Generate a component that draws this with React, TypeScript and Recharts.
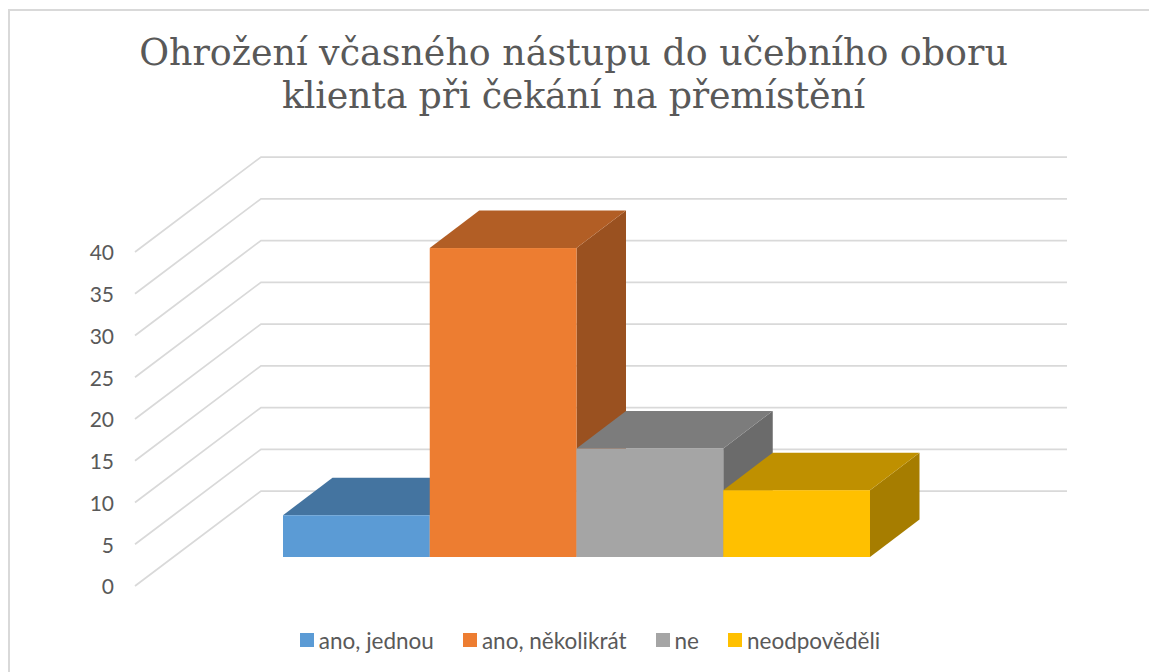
import React from "react";
import { BarChart, Bar, XAxis, YAxis, CartesianGrid, Legend } from "recharts";

const titleLines = ["Ohrožení včasného nástupu do učebního oboru", "klienta při čekání na přemístění"];
const categories = ["Ohrožení"];
const seriesNames = ["ano, jednou", "ano, několikrát", "ne", "neodpověděli"];
const seriesValues = [5, 37, 13, 8];
const frontColors = ["#5B9BD5", "#ED7D31", "#A5A5A5", "#FFC000"];
const topColors = ["#4474A0", "#B25E25", "#7C7C7C", "#BF9000"];
const sideColors = ["#3A6389", "#9A5120", "#6B6B6B", "#A67D00"];
const yTicks = [0, 5, 10, 15, 20, 25, 30, 35, 40];

const WALL_DX = 126;
const WALL_DY = 95;
const BAR_SHIFT_X = 38;
const BAR_SHIFT_Y = 29;
const DEPTH_X = 49.5;
const DEPTH_Y = 37.5;

const data = categories.map((c) => {
  const row: Record<string, string | number> = { category: c };
  seriesNames.forEach((n, i) => (row[n] = seriesValues[i]));
  return row;
});

const gridLine = (p: any) => {
  const { x1, x2, y1 } = p;
  const d = `M${x1},${y1}L${x1 + WALL_DX},${y1 - WALL_DY}L${x2 + WALL_DX},${y1 - WALL_DY}`;
  return <path key={p.key ?? y1} d={d} fill="none" stroke="#D9D9D9" strokeWidth={1.75} />;
};

const makeShape = (i: number) => (p: any) => {
  const x = p.x + BAR_SHIFT_X;
  const y = p.y - BAR_SHIFT_Y;
  const w = p.width;
  const h = p.height;
  return (
    <g>
      <path d={`M${x + w},${y}L${x + w + DEPTH_X},${y - DEPTH_Y}L${x + w + DEPTH_X},${y + h - DEPTH_Y}L${x + w},${y + h}Z`} fill={sideColors[i]} />
      <path d={`M${x},${y}L${x + DEPTH_X},${y - DEPTH_Y}L${x + w + DEPTH_X},${y - DEPTH_Y}L${x + w},${y}Z`} fill={topColors[i]} />
      <rect x={x} y={y} width={w} height={h} fill={frontColors[i]} />
    </g>
  );
};

const legendContent = () => (
  <div style={{ display: "flex", justifyContent: "center", height: 30, paddingLeft: 31, boxSizing: "border-box", alignItems: "center", fontFamily: "Lato, sans-serif", fontSize: 22.5, color: "#595959" }}>
    {seriesNames.map((n, i) => (
      <span key={n} style={{ display: "inline-flex", alignItems: "center", marginRight: i < 3 ? 29 : 0 }}>
        <span style={{ width: 14, height: 14, background: frontColors[i], marginRight: 5 }} />
        {n}
      </span>
    ))}
  </div>
);

export default function App() {
  return (
    <div style={{ position: "absolute", left: 0, top: 0, width: 1149, height: 672, overflow: "hidden", background: "#fff" }}>
      <div style={{ position: "absolute", left: 8, top: 9, width: 1200, height: 700, borderLeft: "2px solid #D9D9D9", borderTop: "2px solid #D9D9D9" }} />
      <div style={{ position: "absolute", left: 0, top: 31, width: 1147, textAlign: "center", fontFamily: "'DejaVu Serif', serif", fontSize: 36.4, lineHeight: "43px", color: "#595959", whiteSpace: "nowrap" }}>
        {titleLines.map((t, i) => (
          <div key={t} style={{ letterSpacing: i === 1 ? -0.2 : 0 }}>{t}</div>
        ))}
      </div>
      <div style={{ position: "absolute", left: 0, top: 0 }}>
        <BarChart width={1149} height={672} data={data} barSize={146.75} barGap={0} margin={{ top: 252, right: 208, bottom: 56, left: 75 }}>
          <CartesianGrid horizontal={gridLine} vertical={false} />
          <XAxis dataKey="category" hide />
          <YAxis width={60} domain={[0, 40]} ticks={yTicks} interval={0} axisLine={false} tickLine={false} tickMargin={15} tick={{ fill: "#595959", fontSize: 21, fontFamily: "Lato, sans-serif", dy: 1 }} />
          <Legend content={legendContent} wrapperStyle={{ top: 625, left: 0, width: 1149 }} />
          {seriesNames.map((n, i) => (
            <Bar key={n} dataKey={n} fill={frontColors[i]} isAnimationActive={false} shape={makeShape(i)} />
          ))}
        </BarChart>
      </div>
    </div>
  );
}
